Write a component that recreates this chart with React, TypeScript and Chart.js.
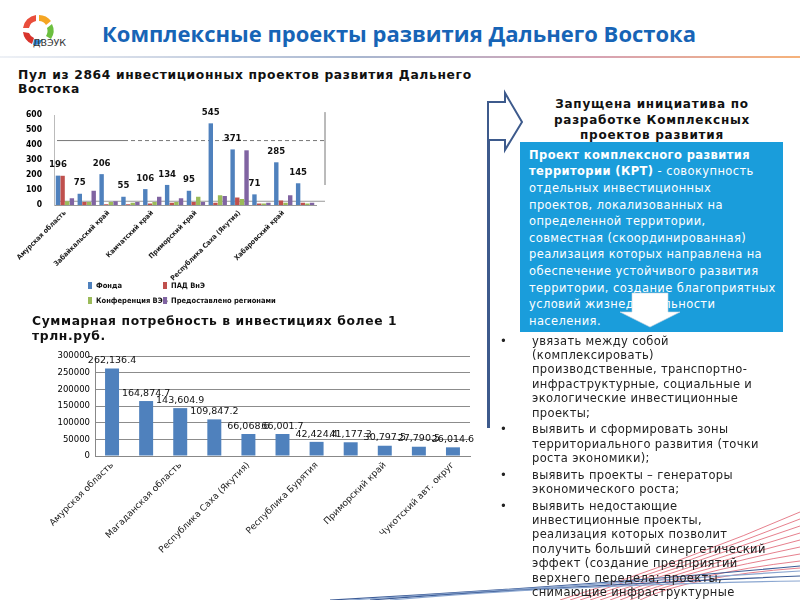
import React, { useEffect, useRef } from "react";
import { Chart, registerables } from "chart.js";

Chart.register(...registerables);

// ---------- DATA ----------
const poolCategories = [
  "Амурская область",
  "Еврейская автономная область",
  "Забайкальский край",
  "Иркутская область",
  "Камчатский край",
  "Магаданская область",
  "Приморский край",
  "Республика Бурятия",
  "Республика Саха (Якутия)",
  "Сахалинская область",
  "Хабаровский край",
  "Чукотский автономный округ",
];
const fundProjects = [196, 75, 206, 55, 106, 134, 95, 545, 371, 71, 285, 145];
const padProjects = [195, 20, 5, 5, 10, 15, 20, 15, 50, 10, 30, 15];
const conferenceProjects = [25, 20, 20, 15, 20, 20, 55, 65, 40, 10, 15, 10];
const regionProjects = [45, 95, 25, 20, 55, 45, 20, 60, 365, 15, 65, 15];
const poolSeriesNames = ["Фонда", "ПАД ВнЭ", "Конференция ВЭБ", "Предоставлено регионами"];
const poolTicks = [0, 100, 200, 300, 400, 500, 600];

const investCategories = [
  "Амурская область",
  "Хабаровский край",
  "Магаданская область",
  "Сахалинская область",
  "Республика Саха (Якутия)",
  "Забайкальский край",
  "Республика Бурятия",
  "Камчатский край",
  "Приморский край",
  "Еврейская автономная область",
  "Чукотский авт. округ",
];
const investValues = [
  262136.4, 164874.7, 143604.9, 109847.2, 66068.6, 66001.7, 42424.4, 41177.3,
  30797.5, 27790.5, 26014.6,
];
const investTicks = [0, 50000, 100000, 150000, 200000, 250000, 300000];

const boxLines: [string, string][] = [
  ["Проект комплексного развития", ""],
  ["территории (КРТ)", " - совокупность"],
  ["", "отдельных инвестиционных"],
  ["", "проектов, локализованных на"],
  ["", "определенной территории,"],
  ["", "совместная (скоординированная)"],
  ["", "реализация которых направлена на"],
  ["", "обеспечение устойчивого развития"],
  ["", "территории, создание благоприятных"],
  ["", "условий жизнедеятельности"],
  ["", "населения."],
];

const bulletItems: string[][] = [
  [
    "увязать между собой",
    "(комплексировать)",
    "производственные, транспортно-",
    "инфраструктурные, социальные и",
    "экологические инвестиционные",
    "проекты;",
  ],
  ["выявить и сформировать зоны", "территориального развития (точки", "роста экономики);"],
  ["выявить проекты – генераторы", "экономического роста;"],
  [
    "выявить недостающие",
    "инвестиционные проекты,",
    "реализация которых позволит",
    "получить больший синергетический",
    "эффект (создание предприятий",
    "верхнего передела; проекты,",
    "снимающие инфраструктурные",
    "ограничения);",
  ],
];

// ---------- STYLE ----------
const DJ = '"DejaVu Sans", sans-serif';
const NARROW = '"Liberation Sans Narrow", "DejaVu Sans Condensed", "Liberation Sans", sans-serif';
const C_BLUE = "#4F81BD";
const C_RED = "#C0504D";
const C_GREEN = "#9BBB59";
const C_PURPLE = "#8064A2";

function TopChart() {
  const ref = useRef<HTMLCanvasElement | null>(null);
  useEffect(() => {
    if (!ref.current) return;
    const labelPlugin = {
      id: "fundLabels",
      afterDatasetsDraw(chart: any) {
        const ctx = chart.ctx;
        const meta = chart.getDatasetMeta(0);
        ctx.save();
        ctx.font = `bold 9.5px ${NARROW}`;
        ctx.fillStyle = "#111";
        ctx.textAlign = "center";
        ctx.textBaseline = "bottom";
        meta.data.forEach((bar: any, i: number) => {
          ctx.fillText(String(fundProjects[i]), bar.x, bar.y - 6);
        });
        ctx.restore();
      },
    };
    const framePlugin = {
      id: "frame",
      beforeDatasetsDraw(chart: any) {
        const ctx = chart.ctx;
        const a = chart.chartArea;
        const y = chart.scales.y;
        const yy = y.getPixelForValue(430);
        const rx = a.right + 9;
        ctx.save();
        ctx.strokeStyle = "#777";
        ctx.lineWidth = 1;
        ctx.beginPath();
        ctx.moveTo(a.left + 3, yy);
        ctx.lineTo(a.left + 70, yy);
        ctx.stroke();
        ctx.setLineDash([4, 3]);
        ctx.beginPath();
        ctx.moveTo(a.left + 70, yy);
        ctx.lineTo(rx, yy);
        ctx.stroke();
        ctx.setLineDash([]);
        ctx.beginPath();
        ctx.moveTo(rx, y.getPixelForValue(600) - 3);
        ctx.lineTo(rx, y.getPixelForValue(0) - 20);
        ctx.stroke();
        ctx.strokeStyle = "#999";
        ctx.beginPath();
        ctx.moveTo(a.left + 3, y.getPixelForValue(25));
        ctx.lineTo(rx, y.getPixelForValue(25));
        ctx.stroke();
        ctx.restore();
      },
    };
    const chart = new Chart(ref.current, {
      type: "bar",
      data: {
        labels: poolCategories,
        datasets: [
          { label: poolSeriesNames[0], data: fundProjects, backgroundColor: C_BLUE },
          { label: poolSeriesNames[1], data: padProjects, backgroundColor: C_RED },
          { label: poolSeriesNames[2], data: conferenceProjects, backgroundColor: C_GREEN },
          { label: poolSeriesNames[3], data: regionProjects, backgroundColor: C_PURPLE },
        ],
      },
      options: {
        animation: false,
        responsive: false,
        maintainAspectRatio: false,
        layout: { padding: { top: 13, right: 24, left: 0, bottom: 0 } },
        plugins: { legend: { display: false }, tooltip: { enabled: false } },
        datasets: { bar: { categoryPercentage: 0.85, barPercentage: 0.95 } },
        scales: {
          x: {
            grid: { display: false, drawTicks: false },
            border: { display: true, color: "#999" },
            ticks: {
              autoSkip: false,
              maxRotation: 45,
              minRotation: 45,
              padding: 4,
              color: "#222",
              font: { size: 7, weight: "bold", family: NARROW },
              callback: (_v: any, i: number) => (i % 2 === 0 ? poolCategories[i] : ""),
            },
            afterFit: (s: any) => {
              s.height = 83;
            },
          },
          y: {
            min: 0,
            max: 600,
            afterBuildTicks: (s: any) => {
              s.ticks = poolTicks.map((v) => ({ value: v }));
            },
            grid: { display: false, drawTicks: false },
            border: { display: true, color: "#bbb" },
            ticks: {
              padding: 12,
              color: "#000",
              font: { size: 8.5, weight: "bold", family: NARROW },
              callback: (v: any) => String(v),
            },
            afterFit: (s: any) => {
              s.width = 54;
            },
          },
        },
      } as any,
      plugins: [framePlugin, labelPlugin],
    });
    return () => chart.destroy();
  }, []);
  return (
    <canvas
      ref={ref}
      width={340}
      height={190}
      style={{ position: "absolute", left: 0, top: 98, width: 340, height: 190 }}
    />
  );
}

function BottomChart() {
  const ref = useRef<HTMLCanvasElement | null>(null);
  useEffect(() => {
    if (!ref.current) return;
    const fmt = (v: number) =>
      v.toLocaleString("en-US", { minimumFractionDigits: 1, maximumFractionDigits: 1 });
    const labelPlugin = {
      id: "investLabels",
      afterDatasetsDraw(chart: any) {
        const ctx = chart.ctx;
        const meta = chart.getDatasetMeta(0);
        ctx.save();
        ctx.font = `9.5px ${DJ}`;
        ctx.fillStyle = "#111";
        ctx.textAlign = "center";
        ctx.textBaseline = "bottom";
        meta.data.forEach((bar: any, i: number) => {
          ctx.fillText(fmt(investValues[i]), bar.x, bar.y - 3);
        });
        ctx.restore();
      },
    };
    const chart = new Chart(ref.current, {
      type: "bar",
      data: {
        labels: investCategories,
        datasets: [{ label: "Инвестиции", data: investValues, backgroundColor: C_BLUE }],
      },
      options: {
        animation: false,
        responsive: false,
        maintainAspectRatio: false,
        layout: { padding: { top: 16, right: 10, left: 0, bottom: 0 } },
        plugins: { legend: { display: false }, tooltip: { enabled: false } },
        datasets: { bar: { categoryPercentage: 1, barPercentage: 0.41 } },
        scales: {
          x: {
            grid: { display: false, drawTicks: false },
            border: { display: true, color: "#888" },
            ticks: {
              autoSkip: false,
              maxRotation: 45,
              minRotation: 45,
              padding: 4,
              color: "#222",
              font: { size: 9, family: DJ },
              callback: (_v: any, i: number) => (i % 2 === 0 ? investCategories[i] : ""),
            },
            afterFit: (s: any) => {
              s.height = 114;
            },
          },
          y: {
            min: 0,
            max: 300000,
            afterBuildTicks: (s: any) => {
              s.ticks = investTicks.map((v) => ({ value: v }));
            },
            grid: { color: "#8c8c8c", drawTicks: false },
            border: { display: true, color: "#888" },
            ticks: {
              padding: 5,
              color: "#000",
              font: { size: 8.5, family: DJ },
              callback: (v: any) => String(v),
            },
            afterFit: (s: any) => {
              s.width = 95;
            },
          },
        },
      } as any,
      plugins: [labelPlugin],
    });
    return () => chart.destroy();
  }, []);
  return (
    <canvas
      ref={ref}
      width={480}
      height={230}
      style={{ position: "absolute", left: 0, top: 340, width: 480, height: 230 }}
    />
  );
}

function Logo() {
  return (
    <svg width={70} height={50} style={{ position: "absolute", left: 10, top: 8 }}>
      <path d="M13 20 A15 15 0 0 1 26 7 L26 13 A9 9 0 0 0 19 20 Z" fill="#e94e3c" />
      <path d="M29 7 A15 15 0 0 1 41 13 L36 17 A9 9 0 0 0 29 13 Z" fill="#f5a623" />
      <path d="M42 16 A15 15 0 0 1 41 31 L36 28 A9 9 0 0 0 37 20 Z" fill="#6cbf3f" />
      <path d="M19 25 A9 9 0 0 0 24 30 L22 36 A15 15 0 0 1 13 24 Z" fill="#d8342c" />
      <path d="M24 31 A9 9 0 0 0 33 31 L30 36 A15 15 0 0 1 23 37 Z" fill="#2f86d6" />
      <text x={23} y={38} fontFamily={DJ} fontSize={9.5} fill="#333">
        ДВЭУК
      </text>
    </svg>
  );
}

function Line({ top, left, fs, lh, bold, color, children, center, width, ls }: any) {
  return (
    <div
      style={{
        position: "absolute",
        top,
        left,
        width,
        fontFamily: DJ,
        fontSize: fs,
        lineHeight: lh + "px",
        fontWeight: bold ? "bold" : "normal",
        letterSpacing: ls ? ls + "px" : undefined,
        color,
        whiteSpace: "nowrap",
        textAlign: center ? "center" : "left",
      }}
    >
      {children}
    </div>
  );
}

export default function App() {
  const bulletLines: { text: string; first: boolean; top: number }[] = [];
  let y = 333.5;
  bulletItems.forEach((item, k) => {
    if (k > 0) y += 2.2;
    item.forEach((t, j) => {
      bulletLines.push({ text: t, first: j === 0, top: y });
      y += 14.4;
    });
  });
  return (
    <div
      style={{
        position: "absolute",
        left: 0,
        top: 0,
        width: 800,
        height: 600,
        overflow: "hidden",
        background: "#fff",
      }}
    >
      {/* decorative lines */}
      <svg width={800} height={600} style={{ position: "absolute", left: 0, top: 0 }}>
        {[0, 1, 2, 3, 4, 5, 6, 7, 8].map((k) => (
          <path
            key={"r" + k}
            d={`M${560 + k * 10} 600 Q ${690} ${560 + k * 2} 800 ${512 + k * 7}`}
            stroke="#e06070"
            strokeWidth={0.8}
            fill="none"
          />
        ))}
        {[0, 1, 2, 3].map((k) => (
          <path
            key={"b" + k}
            d={`M${330 + k * 20} 600 Q 560 ${588 - k} 800 ${566 + k * 5}`}
            stroke={k % 2 ? "#8aa6d0" : "#3d5c96"}
            strokeWidth={1.2}
            fill="none"
          />
        ))}
      </svg>

      <Logo />
      <div
        style={{
          position: "absolute",
          left: 102,
          top: 18,
          fontFamily: '"Open Sans", sans-serif',
          fontWeight: "bold",
          fontSize: 22,
          lineHeight: "30px",
          color: "#1764b6",
          whiteSpace: "nowrap",
        }}
      >
        Комплексные проекты развития Дальнего Востока
      </div>
      <div
        style={{
          position: "absolute",
          left: 0,
          top: 56,
          width: 800,
          height: 2,
          background: "linear-gradient(to right, #eef1f6, #a9b7d0 45%, #d7a3b3 75%, #f6b27a)",
        }}
      />

      <Line top={67.5} left={18} fs={12.3} lh={14.5} bold color="#111" ls={0.65}>
        Пул из 2864 инвестиционных проектов развития Дальнего
      </Line>
      <Line top={82} left={18} fs={12.3} lh={14.5} bold color="#111" ls={0.65}>
        Востока
      </Line>

      <TopChart />
      {/* legend of top chart */}
      {[0, 1, 2, 3].map((i) => {
        const colors = [C_BLUE, C_RED, C_GREEN, C_PURPLE];
        const left = i % 2 === 0 ? 88 : 163;
        const top = i < 2 ? 280 : 295;
        return (
          <div
            key={i}
            style={{
              position: "absolute",
              left,
              top,
              height: 10,
              display: "flex",
              alignItems: "center",
              fontFamily: DJ,
              fontStretch: "condensed",
              fontWeight: "bold",
              fontSize: 7.5,
              color: "#111",
              whiteSpace: "nowrap",
            }}
          >
            <span style={{ display: "inline-block", width: 4, height: 7, background: colors[i], marginRight: 4 }} />
            {poolSeriesNames[i]}
          </div>
        );
      })}

      <Line top={313.5} left={32} fs={12.3} lh={15} bold color="#111" ls={0.63}>
        Суммарная потребность в инвестициях более 1
      </Line>
      <Line top={328.5} left={32} fs={12.3} lh={15} bold color="#111" ls={0.63}>
        трлн.руб.
      </Line>

      <BottomChart />

      {/* right side */}
      <div style={{ position: "absolute", left: 487, top: 118, width: 3, height: 310, background: "#3d5a8c" }} />
      <svg width={60} height={70} style={{ position: "absolute", left: 480, top: 85 }}>
        <polygon
          points="8,17 25,17 25,8 42,37 25,65 25,55 8,55"
          fill="#fff"
          stroke="#3d5a8c"
          strokeWidth={2}
        />
      </svg>

      {["Запущена инициатива по", "разработке Комплексных", "проектов развития"].map((t, i) => (
        <Line key={i} top={97 + i * 15.5} left={552} width={200} fs={12} lh={15.5} bold color="#111" center ls={0.75}>
          {t}
        </Line>
      ))}

      <div style={{ position: "absolute", left: 520, top: 142, width: 263, height: 190, background: "#1a9ddb" }} />
      {boxLines.map(([b, n], i) => (
        <Line key={i} top={146.7 + i * 16.6} left={529} fs={11.5} lh={16.6} color="#fff" ls={0.4}>
          {b ? <b>{b}</b> : null}
          {n}
        </Line>
      ))}
      <svg width={70} height={40} style={{ position: "absolute", left: 615, top: 290 }}>
        <polygon points="17,3 53,3 53,22 65,22 35,37 5,22 17,22" fill="#fff" stroke="#c9d3de" strokeWidth={0.6} />
      </svg>

      {bulletLines.map((l, i) => (
        <React.Fragment key={i}>
          {l.first ? (
            <Line top={l.top} left={500} fs={11.5} lh={15.5} color="#222">
              •
            </Line>
          ) : null}
          <Line top={l.top} left={532} fs={11.5} lh={15.5} color="#222" ls={0.35}>
            {l.text}
          </Line>
        </React.Fragment>
      ))}
    </div>
  );
}
